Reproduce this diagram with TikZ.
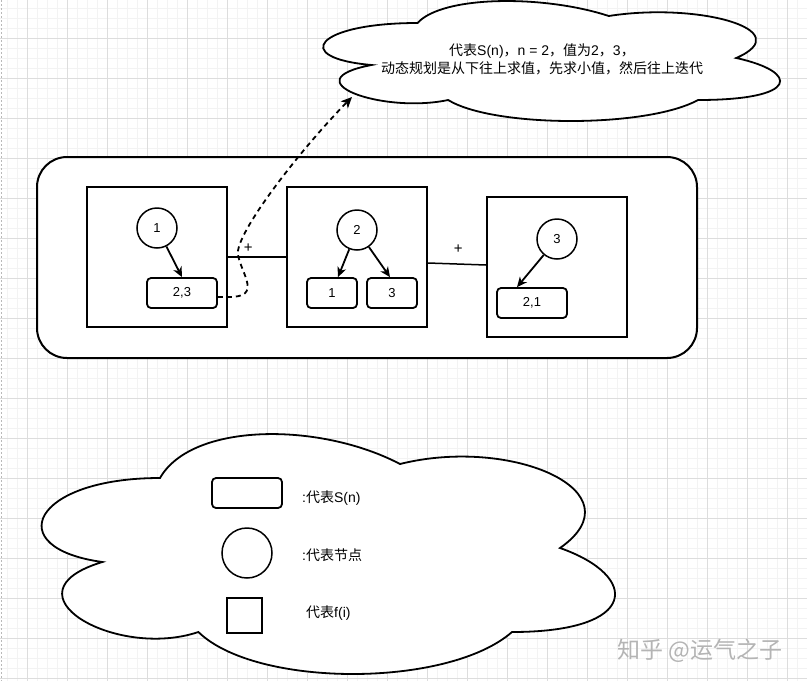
\documentclass[tikz,border=0pt]{standalone}
\usepackage{fontspec}
\setmainfont{Liberation Sans}
\newfontfamily\cjk{Noto Sans CJK SC}
\usetikzlibrary{arrows.meta,calc}
\definecolor{gridminor}{HTML}{F3F3F3}
\definecolor{gridmajor}{HTML}{DDDDDD}
\definecolor{wmgray}{HTML}{B4B4B4}
\tikzset{
  gminor/.style={draw=gridminor, line width=0.7pt},
  gmajor/.style={draw=gridmajor, line width=0.8pt},
  container/.style={draw, fill=white, line width=2pt, rounded corners=30pt, minimum width=660pt, minimum height=201pt, inner sep=0pt},
  fbox/.style={draw, fill=white, line width=2pt, minimum width=140pt, minimum height=140pt, inner sep=0pt},
  nodecirc/.style={draw, fill=white, circle, line width=1.5pt, minimum size=40pt, inner sep=0pt, font=\fontsize{13}{14}\selectfont},
  sbox/.style={draw, fill=white, line width=1.8pt, rounded corners=4pt, minimum height=30pt, inner sep=0pt, font=\fontsize{13}{14}\selectfont},
  arr/.style={line width=1.8pt, -{Stealth[length=10pt,width=9pt,inset=3pt]}},
  conn/.style={line width=1.5pt},
  plus/.style={font=\fontsize{15}{15}\selectfont, inner sep=0pt},
  dasharr/.style={line width=1.8pt, dash pattern=on 5pt off 4pt, -{Stealth[length=11pt,width=10pt,inset=3pt]}},
  cloudline/.style={draw, fill=white, line width=1.8pt},
  txt/.style={font=\fontsize{14}{18}\selectfont, inner sep=0pt}
}
\newcommand{\mxcloudpath}[1]{%
  \path[#1] (0.25,0.25)
   .. controls (0.05,0.25) and (0,0.5) .. (0.16,0.55)
   .. controls (0,0.66) and (0.18,0.9) .. (0.31,0.8)
   .. controls (0.4,1) and (0.7,1) .. (0.8,0.8)
   .. controls (1,0.8) and (1,0.6) .. (0.875,0.5)
   .. controls (1,0.3) and (0.8,0.1) .. (0.625,0.2)
   .. controls (0.5,0.05) and (0.3,0.05) .. (0.25,0.25) -- cycle;}
\begin{document}
\begin{tikzpicture}[x=1pt,y=-1pt]
\useasboundingbox (0,0) rectangle (807,681);
\fill[white] (0,0) rectangle (807,681);
% grid
\foreach \x in {7,17,...,807} \draw[gminor] (\x,0) -- (\x,681);
\foreach \y in {8,18,...,681} \draw[gminor] (0,\y) -- (807,\y);
\foreach \x in {27,67,...,807} \draw[gmajor] (\x,0) -- (\x,681);
\foreach \y in {38,78,...,681} \draw[gmajor] (0,\y) -- (807,\y);
\draw[gray!55, line width=1pt, dash pattern=on 2pt off 2pt] (1,0) -- (1,681);

% top cloud
\begin{scope}[shift={(290,-12)}, xscale=510, yscale=140]
  \mxcloudpath{cloudline}
\end{scope}
\node[txt, align=center] (note) at (542,59) {{\cjk 代表}S(n){\cjk ，}n = 2{\cjk ，值为}2{\cjk ，}3{\cjk ，}\\{\cjk 动态规划是从下往上求值，先求小值，然后往上迭代}};
\coordinate (tip) at (352,97);

% container
\node[container] (cont) at (367,257.5) {};

% boxes
\node[fbox] (b1) at (157,257) {};
\node[fbox] (b2) at (357,257) {};
\node[fbox] (b3) at (557,267) {};

\node[nodecirc] (c1) at (157,228) {1};
\node[sbox, minimum width=70pt] (r23) at (182,293) {2,3};
\node[nodecirc] (c2) at (357,230) {2};
\node[sbox, minimum width=50pt] (r1) at (332,293) {1};
\node[sbox, minimum width=50pt] (r3) at (392,293) {3};
\node[nodecirc] (c3) at (557,239) {3};
\node[sbox, minimum width=70pt] (r21) at (532,303) {2,1};

\draw[arr] (c1) -- (r23.north);
\draw[arr] (c2) -- ([xshift=6pt]r1.north);
\draw[arr] (c2) -- ([xshift=-2pt]r3.north);
\draw[arr] (c3) -- ([xshift=-15pt]r21.north);

\draw[conn] (b1) -- node[plus, pos=0.35, yshift=9pt] (p1) {+} (b2);
\draw[conn] ([yshift=-6pt]b2.east) -- node[plus, pos=0.52, yshift=15pt] (p2) {+} ([yshift=2pt]b3.west);

\draw[dasharr] ([yshift=-4pt]r23.east) -- (229,297) .. controls (262,297) and (242,275) .. (238,255) .. controls (234,235) and (300,150) .. (tip);

% bottom legend cloud
\begin{scope}[shift={(0,408)}, xscale=640, yscale=280]
  \mxcloudpath{cloudline}
\end{scope}
\node[sbox, minimum width=70pt] (legr) at (247,493) {};
\node[nodecirc, minimum size=50pt] (legc) at (247,553) {};
\node[fbox, minimum width=35pt, minimum height=35pt] (legs) at (244.5,615.5) {};
\node[txt, anchor=west] (t1) at (302,498) {:{\cjk 代表}S(n)};
\node[txt, anchor=west] (t2) at (302,555) {:{\cjk 代表节点}};
\node[txt, anchor=west] (t3) at (306,613) {{\cjk 代表}f(i)};

% watermark
\node[text=wmgray, font=\cjk\fontsize{23}{26}\selectfont, inner sep=0pt] (wm) at (700,651) {知乎 @运气之子};
\end{tikzpicture}
\end{document}
